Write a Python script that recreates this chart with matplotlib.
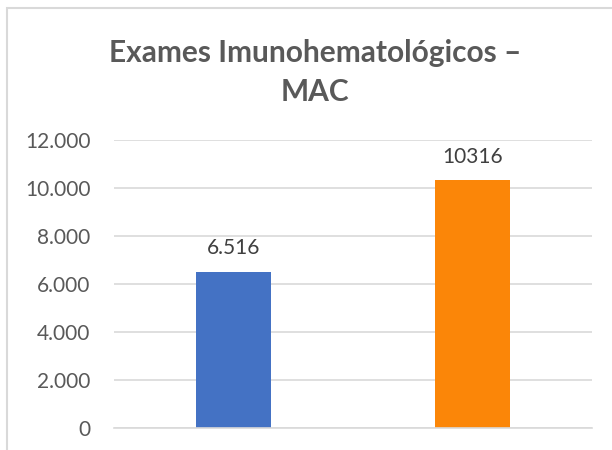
import matplotlib.pyplot as plt
from matplotlib.patches import Rectangle
from matplotlib.ticker import FuncFormatter

# dados
categorias = ["A", "B"]
valores = [6516, 10316]
rotulos = ["6.516", "10316"]
cores = ["#4472C4", "#FB8608"]
ticks_y = [0, 2000, 4000, 6000, 8000, 10000, 12000]

plt.rcParams['font.family'] = ['Lato', 'DejaVu Sans']

fig = plt.figure(figsize=(6.12, 4.5), dpi=100)
ax = fig.add_axes([114/612, 1-428/450, (592-114)/612, (428-140)/450])

x = range(len(categorias))
barras = ax.bar(x, valores, width=0.314, color=cores)
ax.set_xlim(-0.5, 1.5)
ax.set_ylim(0, 12000)
ax.set_yticks(ticks_y)
ax.yaxis.set_major_formatter(FuncFormatter(lambda v, p: f"{int(v):,}".replace(",", ".")))
ax.set_xticks([])

ax.grid(axis='y', color='#d9d9d9', linewidth=1.2)
ax.set_axisbelow(True)
for s in ['top', 'right', 'left']:
    ax.spines[s].set_visible(False)
ax.spines['bottom'].set_color('#d9d9d9')
ax.spines['bottom'].set_linewidth(1.2)
ax.tick_params(axis='y', length=0, pad=17, labelsize=15, labelcolor='#595959')

# rótulos de dados
for b, r in zip(barras, rotulos):
    ax.annotate(r, (b.get_x() + b.get_width()/2, b.get_height()),
                xytext=(0, 10), textcoords='offset points',
                ha='center', va='bottom', fontsize=15, color='#404040')

# título em duas linhas
fig.text(0.515, 1-53/450, "Exames Imunohematológicos –", ha='center', va='center',
         fontsize=21.5, fontweight='bold', color='#595959')
fig.text(0.515, 1-92/450, "MAC", ha='center', va='center',
         fontsize=21.5, fontweight='bold', color='#595959')

# moldura do gráfico (cortada à direita e embaixo)
fig.patches.append(Rectangle((7/612, -0.1), 1.2, 1.1 - 8/450, transform=fig.transFigure,
                             fill=False, edgecolor='#d9d9d9', linewidth=1.5))

fig.savefig("out.png", dpi=100)
